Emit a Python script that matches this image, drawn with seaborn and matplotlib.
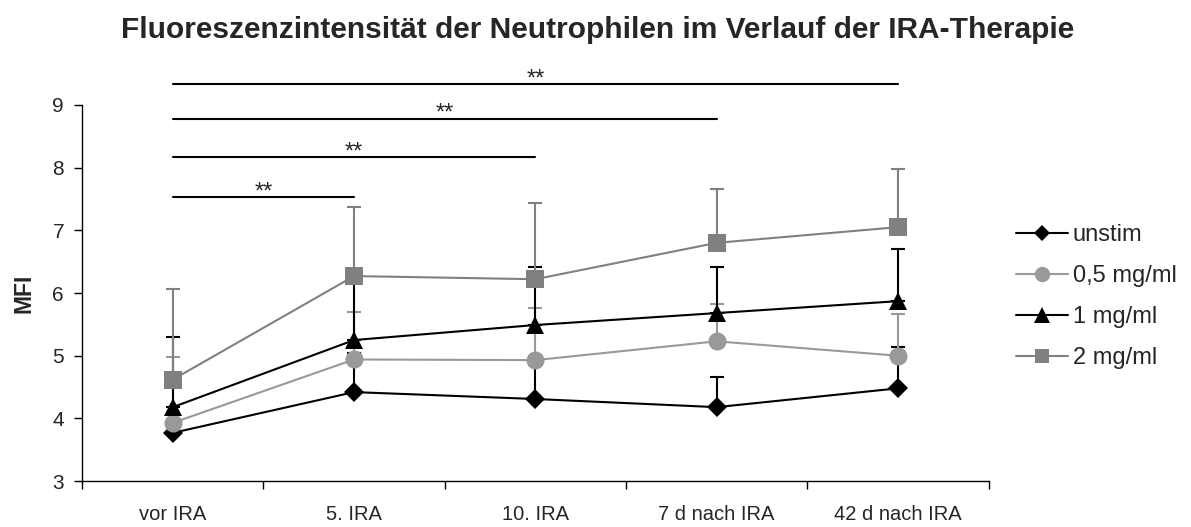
import numpy as np
import pandas as pd
import matplotlib
matplotlib.use('Agg')
import matplotlib.pyplot as plt
import seaborn as sns

# data (mean MFI and upper SD)
timepoints = ['vor IRA', '5. IRA', '10. IRA', '7 d nach IRA', '42 d nach IRA']
groups = ['unstim', '0,5 mg/ml', '1 mg/ml', '2 mg/ml']

unstim = [3.77, 4.42, 4.31, 4.18, 4.48]
unstim_sd = [0.30, 0.62, 0.55, 0.48, 0.66]
conc_05 = [3.93, 4.94, 4.93, 5.23, 5.00]
conc_05_sd = [1.05, 0.76, 0.83, 0.59, 0.66]
conc_1 = [4.18, 5.25, 5.49, 5.68, 5.87]
conc_1_sd = [1.12, 1.05, 0.92, 0.73, 0.83]
conc_2 = [4.62, 6.27, 6.22, 6.80, 7.05]
conc_2_sd = [1.44, 1.10, 1.21, 0.86, 0.92]

# significance brackets: (from, to, height)
sig_from = [0, 0, 0, 0]
sig_to = [1, 2, 3, 4]
sig_y = [7.53, 8.17, 8.78, 9.33]
sig_label = ['**', '**', '**', '**']

means = [unstim, conc_05, conc_1, conc_2]
sds = [unstim_sd, conc_05_sd, conc_1_sd, conc_2_sd]

df = pd.DataFrame({
    'x': np.tile(np.arange(len(timepoints)), len(groups)),
    'MFI': np.concatenate(means),
    'SD': np.concatenate(sds),
    'Gruppe': np.repeat(groups, len(timepoints)),
})

colors = {'unstim': '#000000', '0,5 mg/ml': '#999999', '1 mg/ml': '#000000', '2 mg/ml': '#808080'}
markers = {'unstim': 'D', '0,5 mg/ml': 'o', '1 mg/ml': '^', '2 mg/ml': 's'}
msizes = {'unstim': 10, '0,5 mg/ml': 13, '1 mg/ml': 13.5, '2 mg/ml': 12.5}

sns.set_style('white')
plt.rcParams['font.family'] = ['Liberation Sans', 'DejaVu Sans']

fig, ax = plt.subplots(figsize=(11.91, 5.27), dpi=100)
fig.subplots_adjust(left=0.069, right=0.830, bottom=0.087, top=0.801)

for g in groups:
    d = df[df['Gruppe'] == g]
    ax.errorbar(d['x'], d['MFI'], yerr=[np.zeros(len(d)), d['SD']], fmt='none',
                ecolor=colors[g], elinewidth=1.5, capsize=5, capthick=1.5, zorder=1)

sns.lineplot(data=df, x='x', y='MFI', hue='Gruppe', style='Gruppe',
             palette=colors, markers=markers, dashes=False, ax=ax,
             linewidth=1.5, markeredgewidth=0, legend=False, zorder=3)
for line, g in zip(ax.lines[-len(groups):], groups):
    line.set_markersize(msizes[g])

# legend
handles = [plt.Line2D([], [], color=colors[g], marker=markers[g], markersize=msizes[g] * 0.85,
                      markeredgewidth=0, linewidth=1.5) for g in groups]
ax.legend(handles, groups, loc='center left', bbox_to_anchor=(1.007, 0.49), frameon=False,
          fontsize=17, handlelength=2.2, handletextpad=0.2, labelspacing=0.8)

# significance bars
for a, b, h, t in zip(sig_from, sig_to, sig_y, sig_label):
    ax.plot([a, b], [h, h], color='black', linewidth=1.5, clip_on=False)
    ax.text((a + b) / 2, h - 0.02, t, ha='center', va='baseline', fontsize=17, clip_on=False)

ax.set_xlim(-0.5, len(timepoints) - 0.5)
ax.set_ylim(3, 9)
ax.set_yticks(range(3, 10))
ax.set_xticks(range(len(timepoints)))
ax.set_xticklabels(timepoints)
ax.set_xticks(np.arange(-0.5, len(timepoints), 1), minor=True)
ax.tick_params(axis='x', which='major', length=0, pad=17, labelsize=14.5)
ax.tick_params(axis='x', which='minor', length=6, width=1, color='black', direction='out', bottom=True)
ax.tick_params(axis='y', length=6, width=1, color='black', direction='out', left=True, pad=7, labelsize=15)
ax.set_xlabel('')
ax.set_ylabel('MFI', fontsize=16.5, fontweight='bold', labelpad=12)

sns.despine(ax=ax)
for s in ['left', 'bottom']:
    ax.spines[s].set_color('black')
    ax.spines[s].set_linewidth(1)

fig.suptitle('Fluoreszenzintensität der Neutrophilen im Verlauf der IRA-Therapie',
             fontsize=21.5, fontweight='bold', x=0.502, y=0.970)

fig.savefig('out.png', dpi=100, facecolor='white')
